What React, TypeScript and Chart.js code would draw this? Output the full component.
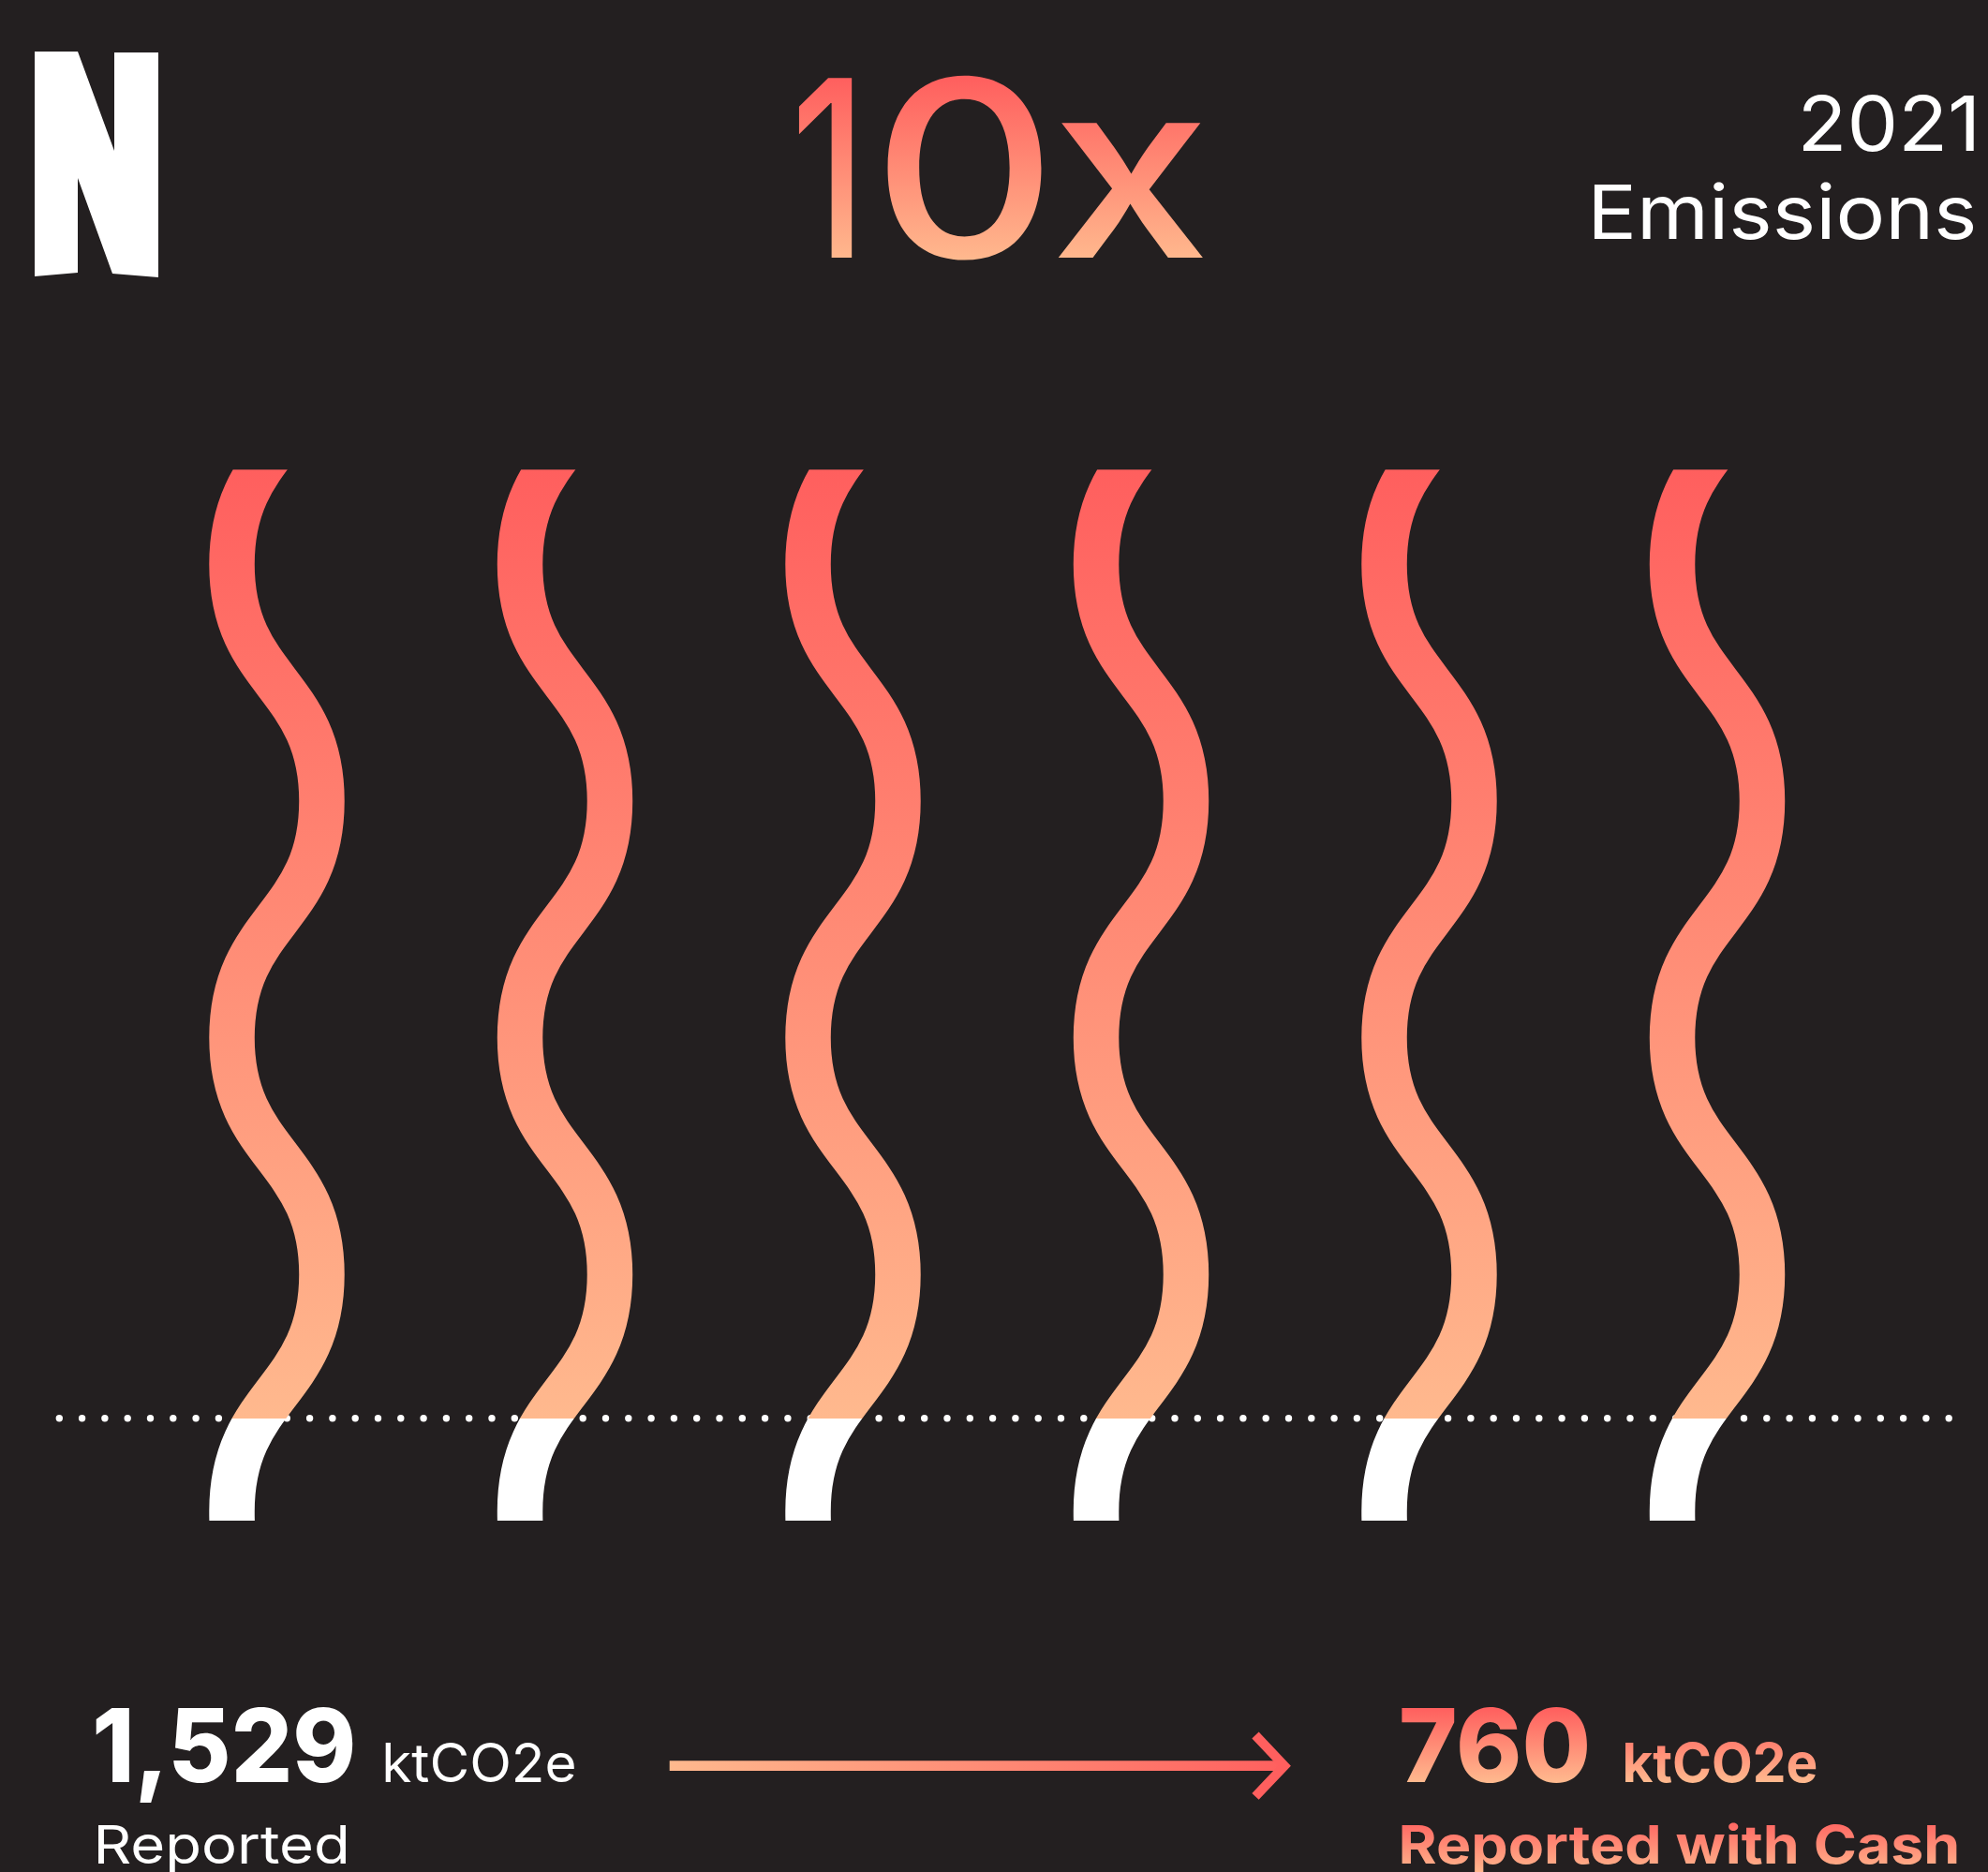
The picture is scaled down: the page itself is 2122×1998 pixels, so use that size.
import React, { useEffect, useRef, useMemo } from 'react';
import { Chart, registerables } from 'chart.js';

Chart.register(...registerables);

// ---------- data ----------
const WAVE_COLUMNS = [1, 2, 3, 4, 5, 6];
// key points (crests) of each wave, top to bottom, in half-period units
const WAVE_PHASES = [-2, -1, 0, 1, 2, 3, 4, 5];
const WAVE_SIDES = [-1, 1, -1, 1, -1, 1, -1, 1];
const WAVE_AMPLITUDE = 0.156;
const BASELINE_PHASE = 3.607;

const HEADLINE = '10x';
const YEAR_LABEL = '2021';
const TITLE_LABEL = 'Emissions';
const REPORTED_VALUE = 1529;
const CASH_VALUE = 760;
const UNIT = 'ktCO2e';
const REPORTED_LABEL = 'Reported';
const CASH_LABEL = 'Reported with Cash';

// ---------- style / layout ----------
const W = 2122;
const H = 1998;
const BG = '#231f20';
const RED = '#FF5F5E';
const PEACH = '#FFB98E';
const FONT = '"Inter", "Noto Sans", sans-serif';

const PLOT = { left: 63.3, right: 2082, top: 501.3, bottom: 1623 };
const X_UNIT_PX = 307.5;
const X_FIRST_PX = 295.5;
const Y_UNIT_PX = 252.7;
const Y_ZERO_PX = 602.2;
const X_MIN = 1 - (X_FIRST_PX - PLOT.left) / X_UNIT_PX;
const X_MAX = X_MIN + (PLOT.right - PLOT.left) / X_UNIT_PX;
const Y_MIN = -(Y_ZERO_PX - PLOT.top) / Y_UNIT_PX;
const Y_MAX = Y_MIN + (PLOT.bottom - PLOT.top) / Y_UNIT_PX;

// ink extents of each headline glyph
const HEADLINE_GLYPH_SPANS = [
  [850, 911],
  [945, 1112.5],
  [1126, 1284.5],
];

function waveGradient(chart: any) {
  const { ctx, chartArea, scales } = chart;
  if (!chartArea || !scales || !scales.y) return RED;
  const base = scales.y.getPixelForValue(BASELINE_PHASE);
  const g = ctx.createLinearGradient(0, chartArea.top, 0, chartArea.bottom);
  const p = Math.min(1, Math.max(0, (base - chartArea.top) / (chartArea.bottom - chartArea.top)));
  g.addColorStop(0, RED);
  g.addColorStop(p, PEACH);
  g.addColorStop(p, '#FFFFFF');
  g.addColorStop(1, '#FFFFFF');
  return g;
}

type Fit = { x: number; y: number; size: number; len: number };

function measureCtx() {
  return document.createElement('canvas').getContext('2d') as CanvasRenderingContext2D;
}

function sizeFor(weight: number, capTop: number, baseline: number) {
  const c = measureCtx();
  const test = 200;
  c.font = `${weight} ${test}px ${FONT}`;
  const capRatio = c.measureText('H').actualBoundingBoxAscent / test;
  return (baseline - capTop) / capRatio;
}

function fitText(text: string, weight: number, left: number, right: number, capTop: number, baseline: number): Fit {
  const size = sizeFor(weight, capTop, baseline);
  const c = measureCtx();
  c.font = `${weight} ${size}px ${FONT}`;
  const m = c.measureText(text);
  const inkL = -m.actualBoundingBoxLeft;
  const inkR = m.actualBoundingBoxRight;
  const s = (right - left) / (inkR - inkL);
  return { x: left - inkL * s, y: baseline, size, len: m.width * s };
}

function SvgText({ text, weight, f, fill }: { text: string; weight: number; f: Fit; fill: string }) {
  return (
    <text
      x={f.x}
      y={f.y}
      fontFamily={FONT}
      fontWeight={weight}
      fontSize={f.size}
      textLength={f.len}
      lengthAdjust="spacingAndGlyphs"
      fill={fill}
    >
      {text}
    </text>
  );
}

export default function App() {
  const canvasRef = useRef<HTMLCanvasElement | null>(null);

  useEffect(() => {
    document.body.style.margin = '0';
    document.body.style.background = BG;
    const canvas = canvasRef.current;
    if (!canvas) return;

    const waveSets = WAVE_COLUMNS.map((col) => ({
      label: `wave ${col}`,
      data: WAVE_PHASES.map((p, k) => ({ x: col + WAVE_SIDES[k] * WAVE_AMPLITUDE, y: p })),
      borderColor: (ctx: any) => waveGradient(ctx.chart),
      borderWidth: 48.5,
      borderCapStyle: 'butt',
      borderJoinStyle: 'round',
      tension: 0.5,
      cubicInterpolationMode: 'default',
      capBezierPoints: false,
      pointRadius: 0,
      pointHoverRadius: 0,
      fill: false,
      clip: 0,
    }));

    const baselineSet = {
      label: 'baseline',
      data: [
        { x: X_MIN, y: BASELINE_PHASE },
        { x: X_MAX, y: BASELINE_PHASE },
      ],
      borderColor: '#FFFFFF',
      borderWidth: 7.4,
      borderDash: [0, 24.3],
      borderCapStyle: 'round',
      tension: 0,
      cubicInterpolationMode: 'default',
      pointRadius: 0,
      pointHoverRadius: 0,
      fill: false,
      clip: false,
    };

    const chart = new Chart(canvas, {
      type: 'line',
      data: { datasets: [...waveSets, baselineSet] as any },
      options: {
        indexAxis: 'y',
        responsive: false,
        animation: false,
        devicePixelRatio: 1,
        events: [],
        elements: { line: { capBezierPoints: false } },
        layout: {
          padding: { left: PLOT.left, right: W - PLOT.right, top: PLOT.top, bottom: H - PLOT.bottom },
        },
        plugins: { legend: { display: false }, tooltip: { enabled: false }, title: { display: false } },
        scales: {
          x: { type: 'linear', min: X_MIN, max: X_MAX, display: false },
          y: { type: 'linear', min: Y_MIN, max: Y_MAX, reverse: true, display: false },
        },
      } as any,
    });
    return () => chart.destroy();
  }, []);

  const fits = useMemo(() => {
    return {
      year: fitText(YEAR_LABEL, 400, 1925, 2107, 101.7, 160.7),
      title: fitText(TITLE_LABEL, 400, 1702, 2107, 196.7, 255),
      reported: fitText(REPORTED_VALUE.toLocaleString('en-US'), 800, 102.1, 376.9, 1823, 1902),
      unitL: fitText(UNIT, 400, 411.3, 613, 1860, 1902),
      reportedLabel: fitText(REPORTED_LABEL, 400, 104, 370, 1948.3, 1989.3),
      cash: fitText(String(CASH_VALUE), 800, 1495.9, 1694.3, 1823, 1902),
      unitR: fitText(UNIT, 700, 1734.4, 1939, 1860, 1902),
      cashLabel: fitText(CASH_LABEL, 700, 1495.9, 2089, 1948.3, 1989.3),
    };
  }, []);

  const headline = useMemo(() => {
    const chars = HEADLINE.split('');
    return chars.map((ch, i) => {
      const [l, r] = HEADLINE_GLYPH_SPANS[i] || HEADLINE_GLYPH_SPANS[HEADLINE_GLYPH_SPANS.length - 1];
      return { ch, f: fitText(ch, 500, l, r, 82.7, 275) };
    });
  }, []);

  return (
    <div style={{ position: 'absolute', left: 0, top: 0, width: W, height: H, background: BG, overflow: 'hidden' }}>
      <canvas ref={canvasRef} width={W} height={H} style={{ position: 'absolute', left: 0, top: 0, width: W, height: H, display: 'block' }} />
      <svg width={W} height={H} viewBox={`0 0 ${W} ${H}`} style={{ position: 'absolute', left: 0, top: 0, pointerEvents: 'none' }}>
        <defs>
          <linearGradient id="gHead" gradientUnits="userSpaceOnUse" x1="0" y1="82.7" x2="0" y2="278">
            <stop offset="0" stopColor={RED} />
            <stop offset="1" stopColor={PEACH} />
          </linearGradient>
          <linearGradient id="gNum" gradientUnits="userSpaceOnUse" x1="0" y1="1823" x2="0" y2="1902">
            <stop offset="0" stopColor={RED} />
            <stop offset="1" stopColor={PEACH} />
          </linearGradient>
          <linearGradient id="gUnit" gradientUnits="userSpaceOnUse" x1="0" y1="1835" x2="0" y2="1902">
            <stop offset="0" stopColor={RED} />
            <stop offset="1" stopColor={PEACH} />
          </linearGradient>
          <linearGradient id="gLabel" gradientUnits="userSpaceOnUse" x1="0" y1="1940" x2="0" y2="2000">
            <stop offset="0" stopColor={RED} />
            <stop offset="1" stopColor={PEACH} />
          </linearGradient>
          <linearGradient id="gArrow" gradientUnits="userSpaceOnUse" x1="714" y1="0" x2="1378" y2="0">
            <stop offset="0" stopColor={PEACH} />
            <stop offset="1" stopColor={RED} />
          </linearGradient>
        </defs>

        <polygon points="37,55 83,55 122,161 122,56 169,56 169,296 120,292 83,190 83,291 37,295" fill="#FFFFFF" />

        <text y={275} fontFamily={FONT} fontWeight={500} fontSize={headline[0].f.size} fill="url(#gHead)">
          {headline.map((g, i) => (
            <tspan key={i} x={g.f.x} textLength={g.f.len} lengthAdjust="spacingAndGlyphs">
              {g.ch}
            </tspan>
          ))}
        </text>
        <SvgText text={YEAR_LABEL} weight={400} f={fits.year} fill="#FFFFFF" />
        <SvgText text={TITLE_LABEL} weight={400} f={fits.title} fill="#FFFFFF" />

        <SvgText text={REPORTED_VALUE.toLocaleString('en-US')} weight={800} f={fits.reported} fill="#FFFFFF" />
        <SvgText text={UNIT} weight={400} f={fits.unitL} fill="#FFFFFF" />
        <SvgText text={REPORTED_LABEL} weight={400} f={fits.reportedLabel} fill="#FFFFFF" />

        <line x1="714.7" y1="1884.7" x2="1370" y2="1884.7" stroke="url(#gArrow)" strokeWidth="10.7" />
        <polyline points="1340,1852 1371,1884.7 1340,1917.4" fill="none" stroke={RED} strokeWidth="10" strokeLinejoin="miter" />

        <SvgText text={String(CASH_VALUE)} weight={800} f={fits.cash} fill="url(#gNum)" />
        <SvgText text={UNIT} weight={700} f={fits.unitR} fill="url(#gUnit)" />
        <SvgText text={CASH_LABEL} weight={700} f={fits.cashLabel} fill="url(#gLabel)" />
      </svg>
    </div>
  );
}
